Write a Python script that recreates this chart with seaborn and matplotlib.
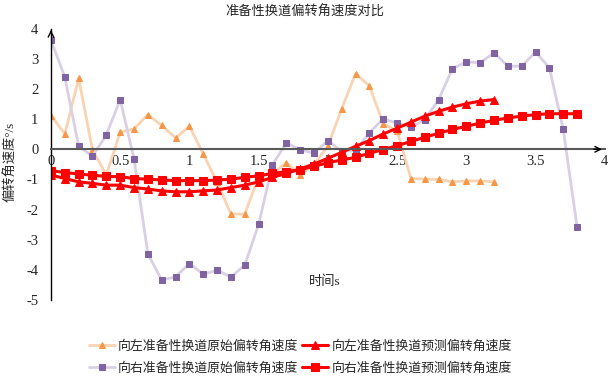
import numpy as np
import pandas as pd
import matplotlib
matplotlib.use("Agg")
import matplotlib.pyplot as plt
import seaborn as sns

# 数据
t_left = np.round(np.arange(0, 3.21, 0.1), 1)
t_right = np.round(np.arange(0, 3.81, 0.1), 1)

left_raw = [1.12, 0.51, 2.35, -0.02, -0.85, 0.57, 0.68, 1.15, 0.79, 0.38,
            0.76, -0.15, -1.1, -2.15, -2.15, -0.9, -0.8, -0.45, -0.85, -0.5,
            0.1, 1.35, 2.51, 2.1, 0.85, 0.6, -0.97, -0.99, -1.0, -1.08,
            -1.05, -1.05, -1.08]
left_pred = [-0.85, -0.97, -1.08, -1.13, -1.19, -1.19, -1.27, -1.32, -1.38, -1.41,
             -1.41, -1.38, -1.35, -1.27, -1.19, -1.08, -0.93, -0.8, -0.65, -0.49,
             -0.3, -0.1, 0.1, 0.29, 0.51, 0.7, 0.9, 1.1, 1.26, 1.4,
             1.51, 1.6, 1.65]
right_raw = [3.62, 2.4, 0.1, -0.23, 0.48, 1.65, -0.32, -3.47, -4.34, -4.23,
             -3.79, -4.15, -4.01, -4.24, -3.84, -2.49, -0.51, 0.21, -0.01, -0.13,
             0.29, -0.07, -0.04, 0.55, 1.01, 0.87, 0.73, 0.98, 1.65, 2.68,
             2.9, 2.87, 3.2, 2.76, 2.76, 3.23, 2.7, 0.66, -2.58]
right_pred = [-0.71, -0.77, -0.82, -0.86, -0.9, -0.91, -0.97, -0.99, -1.02, -1.04,
              -1.04, -1.04, -1.02, -0.99, -0.93, -0.88, -0.8, -0.74, -0.68, -0.56,
              -0.45, -0.35, -0.27, -0.13, -0.01, 0.12, 0.26, 0.4, 0.53, 0.66,
              0.76, 0.87, 0.96, 1.04, 1.1, 1.15, 1.18, 1.18, 1.18]

labels = ["向左准备性换道原始偏转角速度", "向右准备性换道原始偏转角速度",
          "向左准备性换道预测偏转角速度", "向右准备性换道预测偏转角速度"]

df_left = pd.DataFrame({"t": t_left, "raw": left_raw, "pred": left_pred})
df_right = pd.DataFrame({"t": t_right, "raw": right_raw, "pred": right_pred})

sns.set_style("white")
plt.rcParams['font.family'] = ['Liberation Serif', 'Noto Sans CJK SC']
plt.rcParams['axes.unicode_minus'] = False

fig = plt.figure(figsize=(6.14, 3.81), dpi=100)
ax = fig.add_axes([0.083, 0.2126, 0.902, 0.712])

# 原始数据（浅色线 + 深色标记）
sns.lineplot(data=df_left, x="t", y="raw", ax=ax, color="#FAD3B2", lw=2,
             marker="^", markersize=4, markerfacecolor="#F79646",
             markeredgecolor="#F79646", label=labels[0])
sns.lineplot(data=df_right, x="t", y="raw", ax=ax, color="#D9D0E6", lw=2,
             marker="s", markersize=4, markerfacecolor="#8064A2",
             markeredgecolor="#8064A2", label=labels[1])
# 预测数据
sns.lineplot(data=df_left, x="t", y="pred", ax=ax, color="#FF0000", lw=2.2,
             marker="^", markersize=5.5, markerfacecolor="#FF0000",
             markeredgecolor="#FF0000", label=labels[2])
sns.lineplot(data=df_right, x="t", y="pred", ax=ax, color="#FF0000", lw=2.2,
             marker="s", markersize=5.5, markerfacecolor="#FF0000",
             markeredgecolor="#FF0000", label=labels[3])

ax.set_xlim(0, 4)
ax.set_ylim(-5, 4)
ax.set_xticks([0, 0.5, 1, 1.5, 2, 2.5, 3, 3.5, 4])
ax.set_xticklabels(["0", "0.5", "1", "1.5", "2", "2.5", "3", "3.5", "4"])
ax.set_yticks(range(-5, 5))

ax.spines['top'].set_visible(False)
ax.spines['right'].set_visible(False)
ax.spines['bottom'].set_position(('data', 0))
ax.spines['bottom'].set_color('#595959')
ax.spines['bottom'].set_linewidth(1.5)
ax.spines['left'].set_color('black')
ax.spines['left'].set_linewidth(1)
ax.tick_params(axis='both', length=0, labelsize=10.5)
ax.tick_params(axis='y', pad=9)
ax.tick_params(axis='x', pad=4)

# 轴端箭头
ax.annotate('', xy=(4.0, 0), xytext=(3.9, 0), annotation_clip=False,
            arrowprops=dict(arrowstyle='->', color='black', lw=1))
ax.annotate('', xy=(0, 4.05), xytext=(0, 3.8), annotation_clip=False,
            arrowprops=dict(arrowstyle='->', color='black', lw=1))

ax.set_xlabel("")
ax.set_ylabel("偏转角速度°/s", fontsize=9.5)
ax.yaxis.set_label_coords(-0.061, 0.51)
ax.text(0.495, 0.066, "时间s", transform=ax.transAxes, ha='center', va='center',
        fontsize=9.5)
fig.text(0.497, 0.968, "准备性换道偏转角速度对比", ha='center', va='center',
         fontsize=9.5)

ax.legend(ncol=2, loc='center', bbox_to_anchor=(0.489, 0.062),
          bbox_transform=fig.transFigure, frameon=False, fontsize=9.3,
          handlelength=2.0, handletextpad=0.25, columnspacing=0.3,
          labelspacing=0.75, borderpad=0)

fig.savefig("out.png", dpi=100)
